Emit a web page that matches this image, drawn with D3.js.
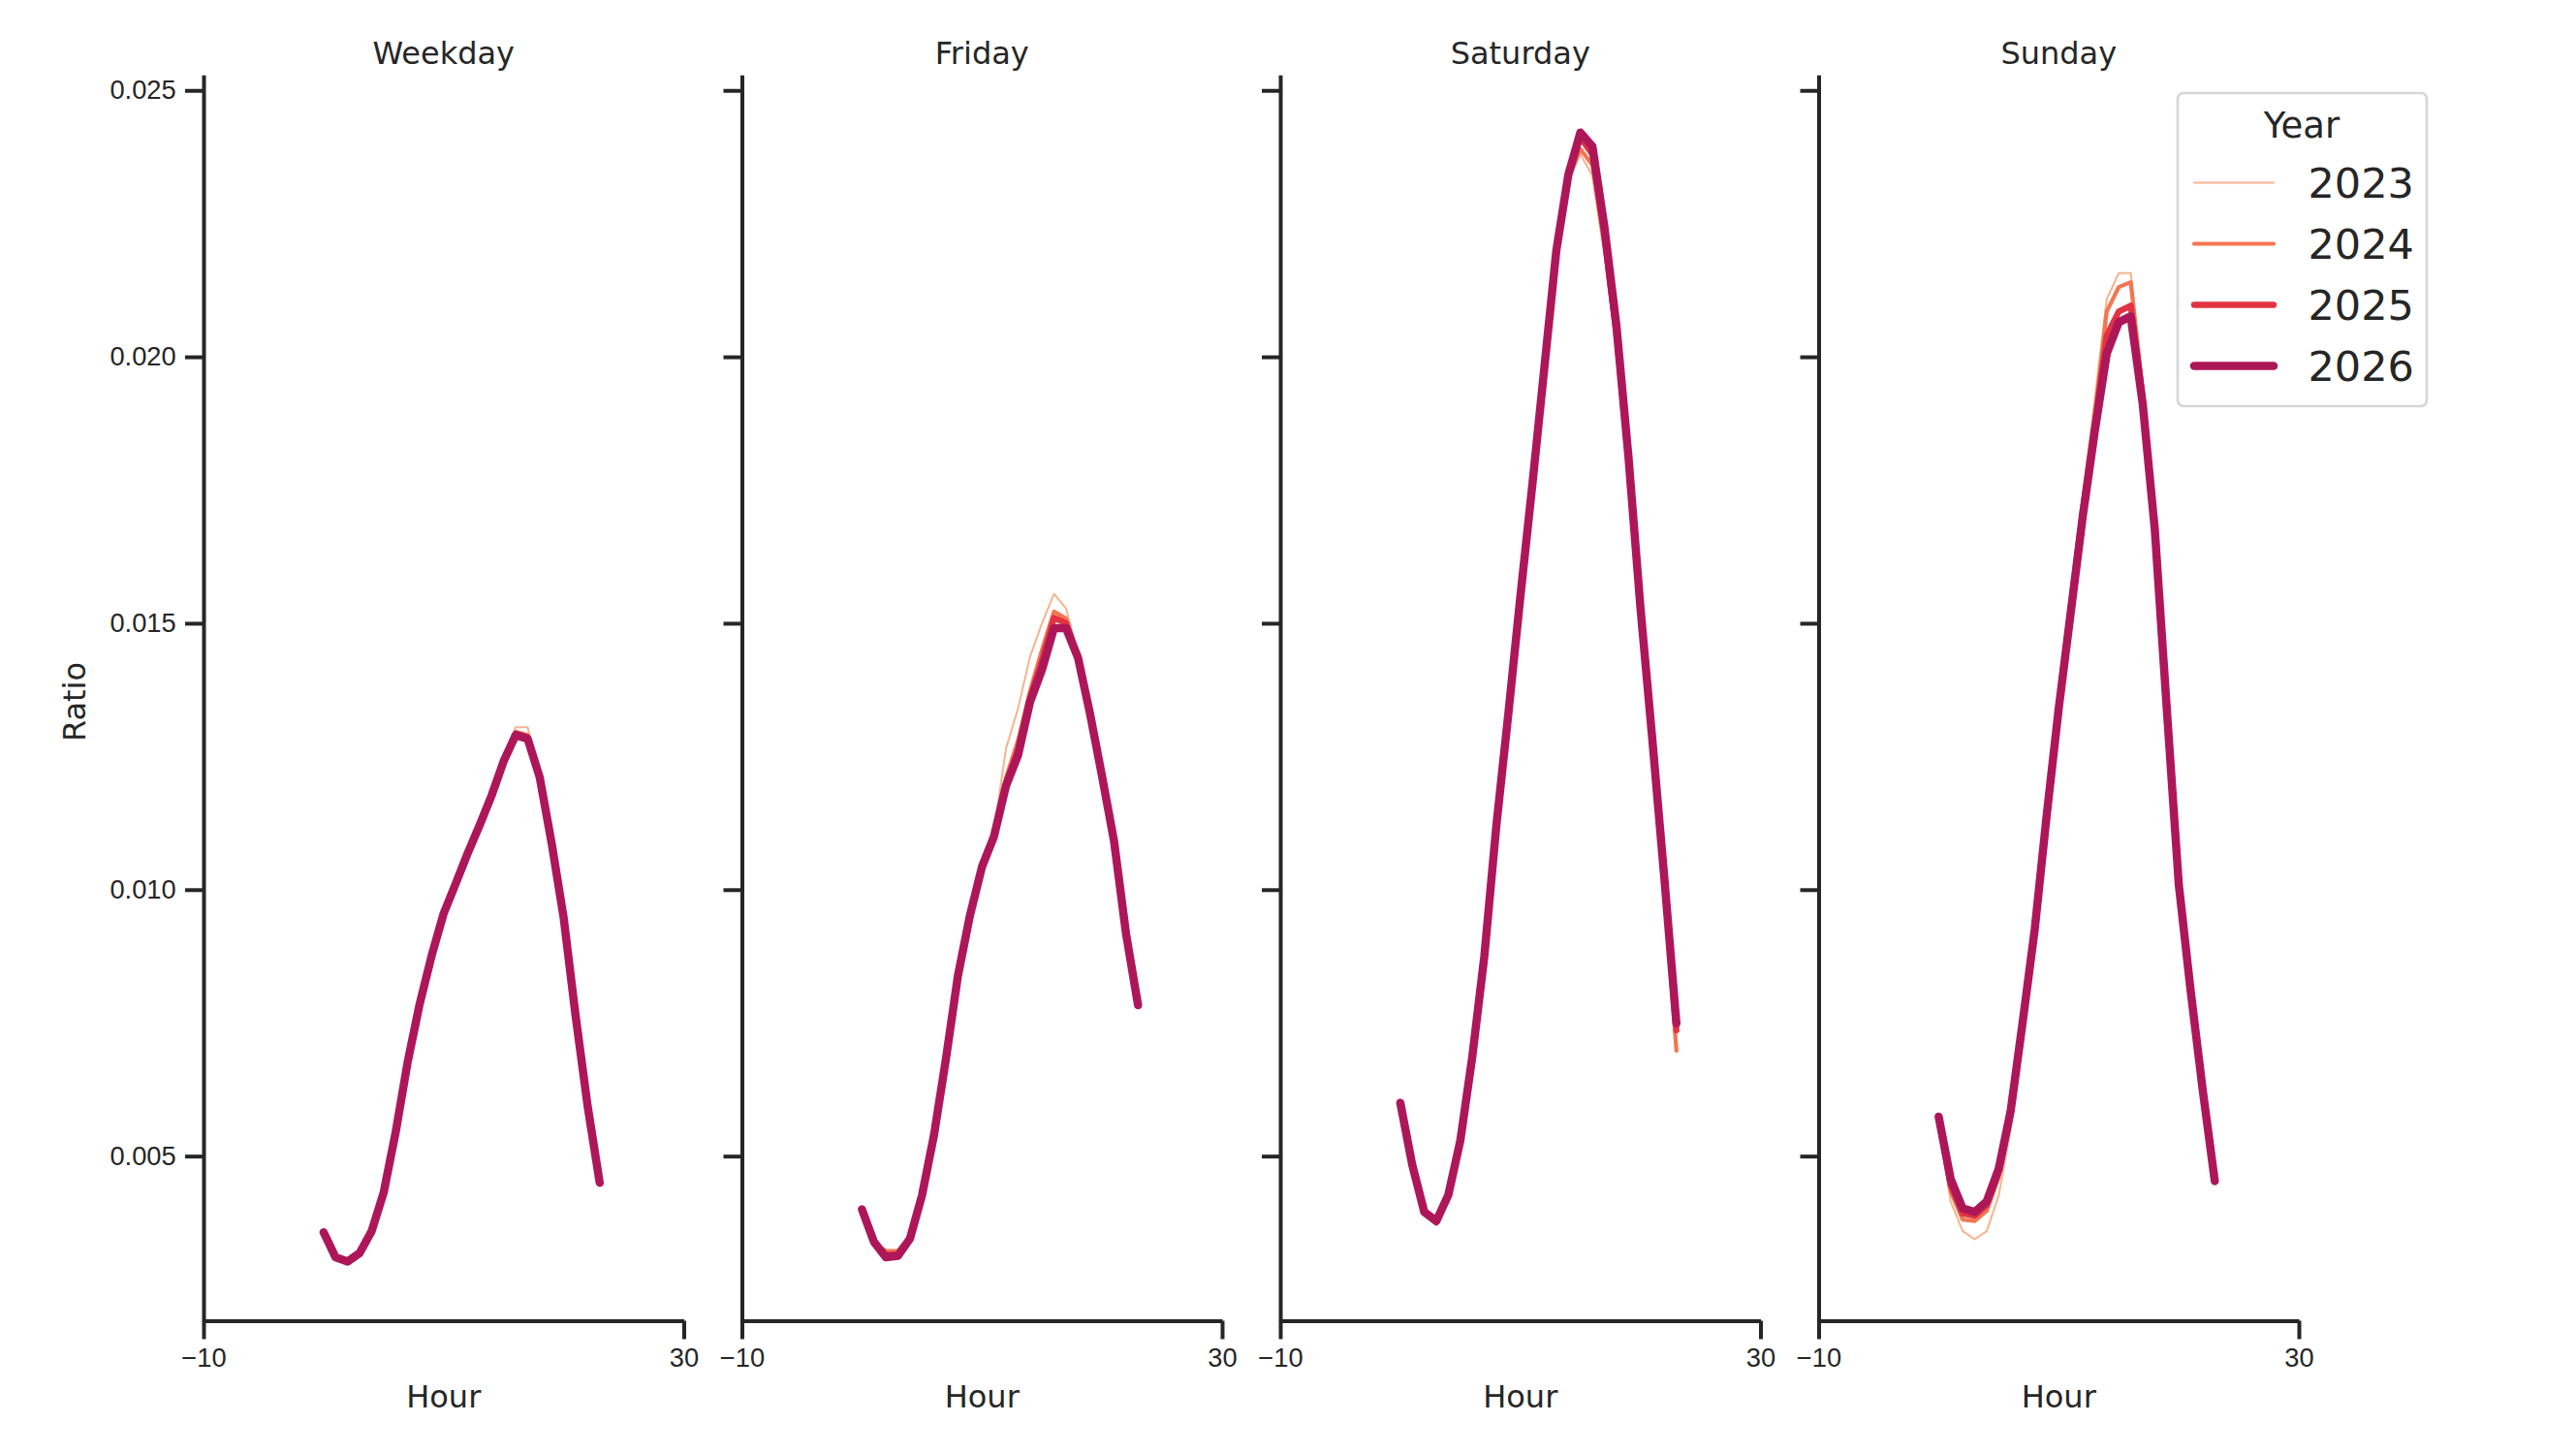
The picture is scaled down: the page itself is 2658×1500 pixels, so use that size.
<!DOCTYPE html>
<html lang="en">
<head>
    <meta charset="utf-8">
    <title>Hourly ratio by day type</title>
	<script src="https://cdn.jsdelivr.net/npm/d3@7"></script>
	<style>
		body { margin:0; background:#fff; }
		svg { font-family:"DejaVu Sans", sans-serif; }
		.axis path, .axis line { stroke:#262626; stroke-width:4px; }
		.axis text { fill:#262626; font-size:27.3px; }
		.lbl { fill:#262626; font-size:32px; }
		.series { fill:none; stroke-linecap:round; stroke-linejoin:round; }
	</style>
</head>
<body>
	<svg id="chart" width="2658" height="1500"></svg>

<script>
	// categories
	var days = ["Weekday", "Friday", "Saturday", "Sunday"];
	var years = ["2023", "2024", "2025", "2026"];
	var hours = [0,1,2,3,4,5,6,7,8,9,10,11,12,13,14,15,16,17,18,19,20,21,22,23];

	// tick labels
	var xTicks = [-10, 30];
	var yTicks = [0.005, 0.010, 0.015, 0.020, 0.025];

	// ratio per hour, one array per day and year
	var weekday2023 = [0.00357,0.00310,0.00302,0.00318,0.00359,0.00431,0.00544,0.00676,0.00785,0.00876,0.00955,0.01011,0.01068,0.01121,0.01177,0.01245,0.01305,0.01305,0.01215,0.01087,0.00947,0.00762,0.00593,0.00450];
	var weekday2024 = [0.00357,0.00310,0.00302,0.00318,0.00359,0.00431,0.00544,0.00676,0.00785,0.00876,0.00955,0.01011,0.01068,0.01121,0.01177,0.01243,0.01296,0.01290,0.01213,0.01087,0.00947,0.00762,0.00593,0.00450];
	var weekday2025 = [0.00357,0.00310,0.00302,0.00318,0.00359,0.00431,0.00544,0.00676,0.00785,0.00876,0.00955,0.01011,0.01068,0.01121,0.01177,0.01242,0.01293,0.01286,0.01212,0.01087,0.00947,0.00762,0.00593,0.00450];
	var weekday2026 = [0.00357,0.00310,0.00302,0.00318,0.00359,0.00431,0.00544,0.00676,0.00785,0.00876,0.00955,0.01011,0.01068,0.01121,0.01177,0.01241,0.01290,0.01283,0.01211,0.01087,0.00947,0.00762,0.00593,0.00450];

	var friday2023 = [0.00398,0.00335,0.00318,0.00318,0.00345,0.00426,0.00539,0.00683,0.00839,0.00952,0.01043,0.01110,0.01265,0.01340,0.01437,0.01500,0.01555,0.01528,0.01440,0.01330,0.01213,0.01091,0.00917,0.00783];
	var friday2024 = [0.00400,0.00336,0.00322,0.00322,0.00348,0.00426,0.00539,0.00683,0.00839,0.00952,0.01043,0.01102,0.01210,0.01280,0.01372,0.01450,0.01522,0.01509,0.01440,0.01330,0.01213,0.01091,0.00917,0.00783];
	var friday2025 = [0.00400,0.00338,0.00315,0.00316,0.00346,0.00426,0.00539,0.00683,0.00839,0.00952,0.01043,0.01100,0.01200,0.01262,0.01360,0.01430,0.01510,0.01500,0.01438,0.01330,0.01213,0.01091,0.00917,0.00783];
	var friday2026 = [0.00400,0.00339,0.00310,0.00313,0.00345,0.00426,0.00539,0.00683,0.00839,0.00952,0.01043,0.01100,0.01195,0.01252,0.01352,0.01413,0.01491,0.01491,0.01435,0.01330,0.01213,0.01091,0.00917,0.00783];

	var saturday2023 = [0.00598,0.00480,0.00390,0.00370,0.00422,0.00529,0.00687,0.00875,0.01120,0.01330,0.01550,0.01760,0.01975,0.02190,0.02330,0.02380,0.02340,0.02190,0.02010,0.01780,0.01510,0.01270,0.01010,0.00740];
	var saturday2024 = [0.00600,0.00482,0.00392,0.00374,0.00425,0.00529,0.00687,0.00875,0.01120,0.01330,0.01550,0.01760,0.01978,0.02195,0.02335,0.02390,0.02360,0.02210,0.02030,0.01790,0.01515,0.01265,0.00995,0.00698];
	var saturday2025 = [0.00600,0.00483,0.00394,0.00376,0.00426,0.00529,0.00687,0.00875,0.01120,0.01330,0.01550,0.01760,0.01980,0.02198,0.02340,0.02412,0.02380,0.02230,0.02045,0.01805,0.01525,0.01275,0.01015,0.00736];
	var saturday2026 = [0.00600,0.00483,0.00395,0.00378,0.00427,0.00529,0.00687,0.00875,0.01120,0.01330,0.01550,0.01760,0.01980,0.02200,0.02342,0.02421,0.02395,0.02244,0.02059,0.01814,0.01530,0.01280,0.01020,0.00749];

	var sunday2023 = [0.00560,0.00415,0.00359,0.00344,0.00359,0.00426,0.00550,0.00740,0.00930,0.01155,0.01360,0.01550,0.01740,0.01920,0.02108,0.02157,0.02157,0.01950,0.01690,0.01340,0.01010,0.00808,0.00623,0.00453];
	var sunday2024 = [0.00568,0.00434,0.00381,0.00378,0.00397,0.00460,0.00570,0.00745,0.00928,0.01150,0.01350,0.01540,0.01720,0.01890,0.02085,0.02131,0.02140,0.01935,0.01685,0.01340,0.01010,0.00808,0.00623,0.00453];
	var sunday2025 = [0.00570,0.00445,0.00392,0.00388,0.00408,0.00470,0.00578,0.00750,0.00926,0.01145,0.01345,0.01530,0.01710,0.01870,0.02040,0.02085,0.02096,0.01920,0.01680,0.01340,0.01010,0.00808,0.00623,0.00453];
	var sunday2026 = [0.00574,0.00457,0.00402,0.00395,0.00415,0.00476,0.00585,0.00752,0.00925,0.01140,0.01340,0.01520,0.01700,0.01860,0.02006,0.02065,0.02076,0.01911,0.01677,0.01340,0.01010,0.00808,0.00623,0.00453];

	var ratios = {
		Weekday:  [weekday2023, weekday2024, weekday2025, weekday2026],
		Friday:   [friday2023, friday2024, friday2025, friday2026],
		Saturday: [saturday2023, saturday2024, saturday2025, saturday2026],
		Sunday:   [sunday2023, sunday2024, sunday2025, sunday2026]
	};

	var colors = ["#f6b48f", "#f37651", "#e13342", "#ad1759"];
	var widths = [2, 4.2, 6.3, 8.5];

	// layout
	var panelLeft = [210, 765.5, 1321, 1876.5];
	var panelWidth = 495.5;
	var plotTop = 77.3, plotBottom = 1362.5;

	var svg = d3.select("#chart");

	var x = d3.scaleLinear().domain([-10, 30]).range([0, panelWidth]);
	var y = d3.scaleLinear().domain([0.00191, 0.02529]).range([plotBottom, plotTop]);

	var line = d3.line()
		.x(function(d){ return x(d[0]); })
		.y(function(d){ return y(d[1]); });

	days.forEach(function(day, i) {
		var g = svg.append("g").attr("transform", "translate(" + panelLeft[i] + ",0)");

		//left spine with ticks, labels only on the first panel
		var yAxis = d3.axisLeft(y).tickValues(yTicks).tickSize(19).tickPadding(9.3).tickSizeOuter(0)
			.tickFormat(i === 0 ? d3.format(".3f") : "");
		g.append("g").attr("class", "axis").call(yAxis);

		var xAxis = d3.axisBottom(x).tickValues(xTicks).tickSize(19).tickPadding(9.1).tickSizeOuter(0);
		g.append("g").attr("class", "axis")
			.attr("transform", "translate(0," + plotBottom + ")")
			.call(xAxis);

		g.append("text").attr("class", "lbl")
			.attr("x", panelWidth / 2).attr("y", 66)
			.attr("text-anchor", "middle")
			.text(day);

		g.append("text").attr("class", "lbl")
			.attr("x", panelWidth / 2).attr("y", 1452)
			.attr("text-anchor", "middle")
			.text("Hour");

		g.selectAll("path.series")
			.data(ratios[day])
			.enter().append("path")
			.attr("class", "series")
			.attr("d", function(vals){
				return line(hours.map(function(h, k){ return [h, vals[k]]; }));
			})
			.style("stroke", function(d, k){ return colors[k]; })
			.style("stroke-width", function(d, k){ return widths[k]; });
	});

	svg.append("text").attr("class", "lbl")
		.attr("transform", "translate(88,724) rotate(-90)")
		.attr("text-anchor", "middle")
		.text("Ratio");

	// legend
	var legend = svg.append("g");
	legend.append("rect")
		.attr("x", 2247).attr("y", 96)
		.attr("width", 257).attr("height", 323)
		.attr("rx", 6)
		.style("fill", "#fff").style("stroke", "#d6d6d6").style("stroke-width", 2.7);
	legend.append("text")
		.attr("x", 2375).attr("y", 141.7)
		.attr("text-anchor", "middle")
		.style("font-size", "37px").style("fill", "#262626")
		.text("Year");

	var items = legend.selectAll("g.item")
		.data(years)
		.enter().append("g")
		.attr("transform", function(d, k){ return "translate(0," + (188.5 + k * 63) + ")"; });
	items.append("line")
		.attr("x1", 2264).attr("x2", 2346)
		.style("stroke", function(d, k){ return colors[k]; })
		.style("stroke-width", function(d, k){ return widths[k]; })
		.style("stroke-linecap", "round");
	items.append("text")
		.attr("x", 2381.5).attr("y", 15.7)
		.style("font-size", "43px").style("fill", "#262626")
		.text(function(d){ return d; });
</script>
</body>
</html>
